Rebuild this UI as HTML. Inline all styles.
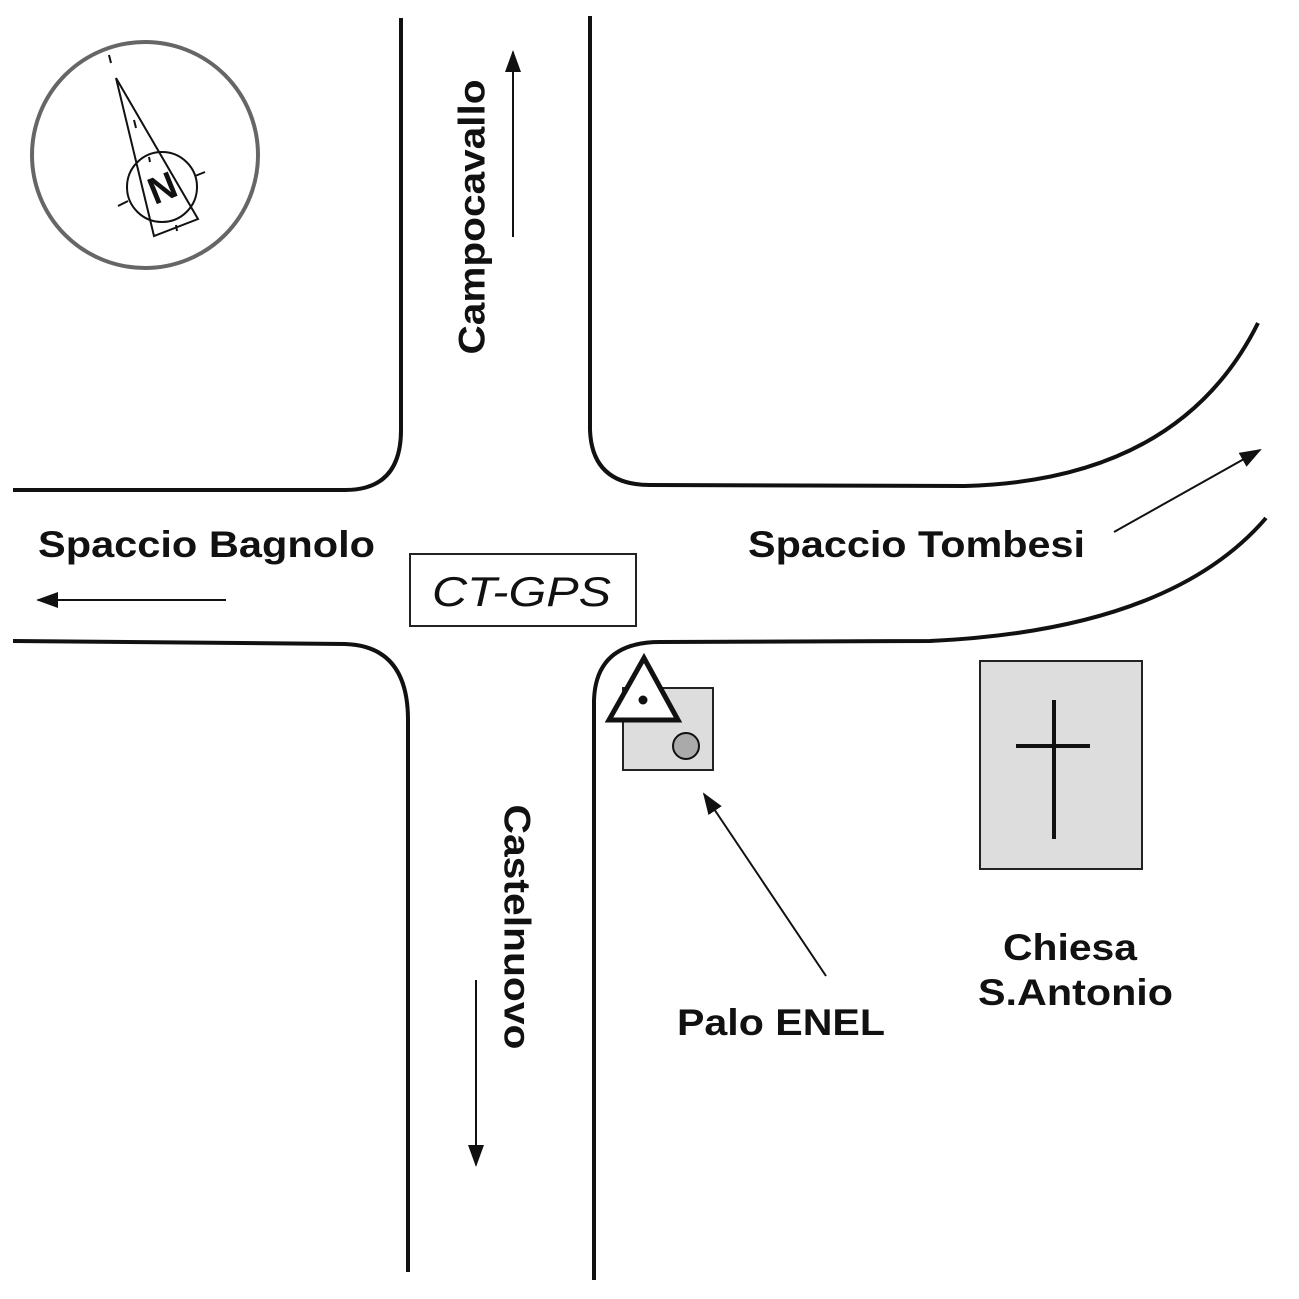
<!DOCTYPE html>
<html><head><meta charset="utf-8"><style>html,body{margin:0;padding:0;background:#fff}svg{display:block}</style></head>
<body>
<svg width="1299" height="1299" viewBox="0 0 1299 1299" xmlns="http://www.w3.org/2000/svg">
<defs>
<marker id="ah2" markerWidth="22" markerHeight="16" refX="20" refY="8" orient="auto" markerUnits="userSpaceOnUse"><path d="M0,0 L22,8 L0,16 z" fill="#111"/></marker></defs>
<g fill="none" stroke="#111" stroke-width="4">
<path d="M401,18 L401,430 Q401,490 345,490 L13,490"/>
<path d="M590,16 L590,430 Q592,485 650,485 L965,486 Q1180,480 1258,323"/>
<path d="M13,641 L345,644 Q408,646 408,720 L408,1272"/>
<path d="M594,1280 L594,700 Q596,642 660,642 L930,641 Q1170,630 1266,518"/>
</g>
<!-- compass -->
<circle cx="145" cy="155" r="113" fill="none" stroke="#666" stroke-width="4"/>
<g stroke="#111" stroke-width="2" fill="none">
<circle cx="162" cy="187" r="35"/>
<path d="M116,78 L154,236 L198,219 Z"/>
<path d="M109,55 L111,63 M134,120 L136,128 M149,157 L150,162 M176,225 L177,231 M118,206 L128,201 M195,176 L205,172"/>
</g>
<text x="162" y="201" font-family="Liberation Sans, sans-serif" font-weight="bold" font-size="38" text-anchor="middle" transform="rotate(-22 162 187)" fill="#111">N</text>
<!-- labels -->
<g font-family="Liberation Sans, sans-serif" font-weight="bold" font-size="37" fill="#111" lengthAdjust="spacingAndGlyphs">
<text x="472" y="217" text-anchor="middle" dominant-baseline="central" transform="rotate(-90 472 217)" textLength="275" lengthAdjust="spacingAndGlyphs">Campocavallo</text>
<text x="517" y="927" text-anchor="middle" dominant-baseline="central" transform="rotate(90 517 927)" textLength="245" lengthAdjust="spacingAndGlyphs">Castelnuovo</text>
<text x="38" y="557" textLength="337" lengthAdjust="spacingAndGlyphs">Spaccio Bagnolo</text>
<text x="748" y="557" textLength="337" lengthAdjust="spacingAndGlyphs">Spaccio Tombesi</text>
<text x="677" y="1035" textLength="208" lengthAdjust="spacingAndGlyphs">Palo ENEL</text>
<text x="1003" y="960" textLength="134" lengthAdjust="spacingAndGlyphs">Chiesa</text>
<text x="978" y="1005" textLength="195" lengthAdjust="spacingAndGlyphs">S.Antonio</text>
</g>
<g stroke="#111" stroke-width="2" fill="none">
<line x1="513" y1="237" x2="513" y2="52" marker-end="url(#ah2)"/>
<line x1="476" y1="980" x2="476" y2="1165" marker-end="url(#ah2)"/>
<line x1="226" y1="600" x2="38" y2="600" marker-end="url(#ah2)"/>
<line x1="1114" y1="532" x2="1260" y2="450" marker-end="url(#ah2)"/>
<line x1="826" y1="976" x2="704" y2="794" marker-end="url(#ah2)"/>
</g>
<rect x="410" y="554" width="226" height="72" fill="none" stroke="#222" stroke-width="2"/>
<text x="432" y="606" font-family="Liberation Sans, sans-serif" font-style="italic" font-size="42" fill="#111" textLength="179" lengthAdjust="spacingAndGlyphs">CT-GPS</text>
<!-- church -->
<rect x="980" y="661" width="162" height="208" fill="#ddd" stroke="#222" stroke-width="2"/>
<line x1="1054" y1="700" x2="1054" y2="839" stroke="#111" stroke-width="4"/>
<line x1="1016" y1="746" x2="1090" y2="746" stroke="#111" stroke-width="4"/>
<!-- palo -->
<rect x="623" y="688" width="90" height="82" fill="#ddd" stroke="#222" stroke-width="2"/>
<circle cx="686" cy="746" r="13" fill="#aaa" stroke="#111" stroke-width="2"/>
<path d="M644,658 L609,720 L678,720 Z" fill="#fff" stroke="#111" stroke-width="5" stroke-linejoin="miter"/>
<circle cx="643" cy="700" r="4.5" fill="#111"/>
</svg>
</body></html>
